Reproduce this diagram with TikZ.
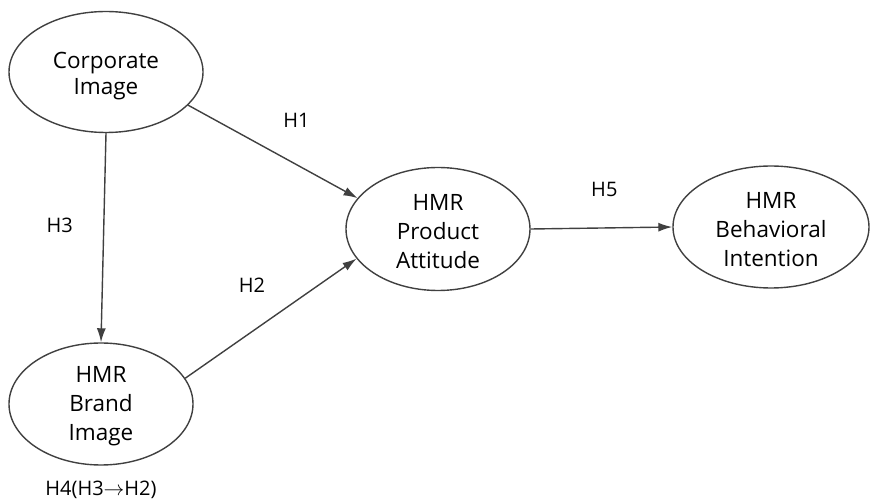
\documentclass[tikz,border=0pt]{standalone}
\usepackage{fontspec}
\setmainfont{Open Sans}
\usetikzlibrary{shapes.geometric,arrows.meta}

\newcommand{\lowertext}{\rule{0pt}{21pt}}
\tikzset{
	construct/.style={ellipse, draw=black!75, line width=1.4pt, inner sep=0pt,
		align=center, font=\fontsize{22.5}{29}\selectfont},
	hyp/.style={font=\fontsize{20}{24}\selectfont, text=black}
}

\begin{document}
\begin{tikzpicture}[x=1pt, y=-1pt]
	\useasboundingbox (0,0) rectangle (876,502);
	% Define nodes
	\node (corp) [construct, minimum width=194pt, minimum height=121pt] at (106,72) {\rule{0pt}{25pt}Corporate\\[-3pt]Image};
	\node (brand) [construct, minimum width=184pt, minimum height=122pt] at (101,404) {\lowertext HMR\\Brand\\Image};
	\node (prod) [construct, minimum width=184pt, minimum height=123pt] at (438,229) {\lowertext HMR\\Product\\Attitude};
	\node (behav) [construct, minimum width=196pt, minimum height=122pt] at (771,227) {\lowertext HMR\\Behavioral\\Intention};
	\node (h4) [hyp] at (101,490) {H4(H3$\rightarrow$H2)};

	% Draw edges
	\path[-{Latex[length=14pt,width=9pt]}, color=black!75, line width=1.4pt]
	(corp.338) edge node[hyp, pos=0.64, yshift=44pt] {H1} (prod.159)
	(corp.south) edge node[hyp, pos=0.44, xshift=-44pt] {H3} (brand.north)
	(brand.17) edge node[hyp, pos=0.39, yshift=46pt] {H2} (prod.200)
	(prod.east) edge node[hyp, pos=0.52, yshift=38pt] {H5} (behav.west);
\end{tikzpicture}
\end{document}
